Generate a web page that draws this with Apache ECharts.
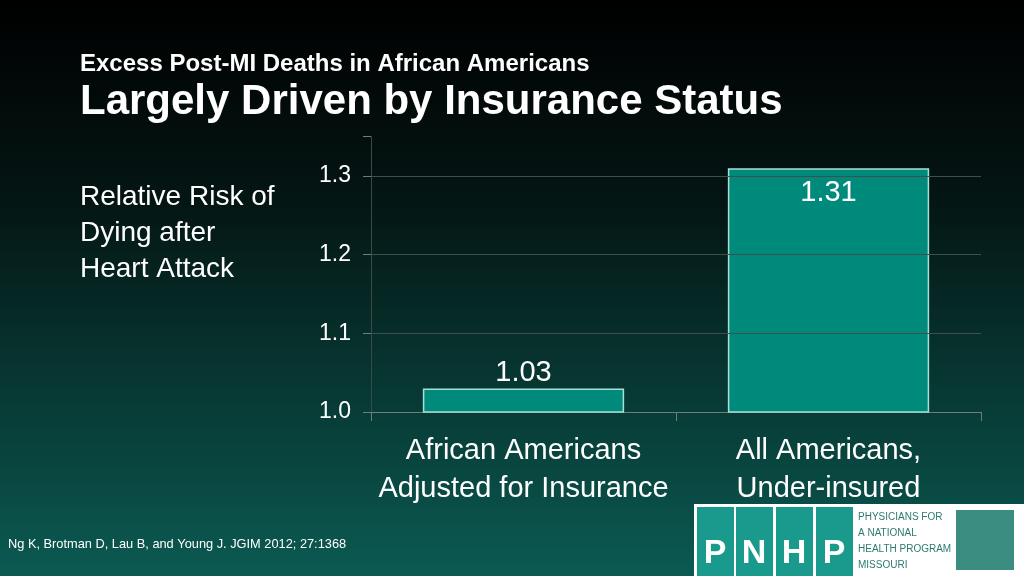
<!DOCTYPE html>
<html><head><meta charset="utf-8">
<script src="https://cdn.jsdelivr.net/npm/echarts@6/dist/echarts.min.js"></script>
<style>html,body{margin:0;padding:0;}#c{width:1024px;height:576px;}</style>
</head><body><div id="c"></div>
<script>
const categories = ['African Americans\nAdjusted for Insurance', 'All Americans,\nUnder-insured'];
const values = [1.03, 1.31];
const gridLines = [1.1, 1.2, 1.3];
const F = 'Arial, "Liberation Sans", sans-serif';
const chart = echarts.init(document.getElementById('c'));
chart.setOption({
  backgroundColor: new echarts.graphic.LinearGradient(0,0,0,1,[
    {offset:0,color:'#000000'},{offset:0.35,color:'#041614'},{offset:1,color:'#0b5a52'}]),
  title: [
    {text:'Excess Post-MI Deaths in African Americans', left:75, top:47,
     textStyle:{color:'#fff',fontFamily:F,fontSize:24,fontWeight:'bold'}},
    {text:'Largely Driven by Insurance Status', left:75, top:76,
     textStyle:{color:'#fff',fontFamily:F,fontSize:42,fontWeight:'bold'}},
    {text:'Relative Risk of\nDying after\nHeart Attack', left:75, top:174,
     textStyle:{color:'#fff',fontFamily:F,fontSize:28,fontWeight:'normal',lineHeight:36}},
    {text:'Ng K, Brotman D, Lau B, and Young J. JGIM 2012; 27:1368', left:3, top:533,
     textStyle:{color:'#fff',fontFamily:F,fontSize:12.8,fontWeight:'normal'}}
  ],
  grid:{left:371, right:43, top:136.7, bottom:164},
  xAxis:{type:'category', data:categories,
    axisLine:{lineStyle:{color:'#6b7f7b'}},
    axisTick:{show:true, length:9, lineStyle:{color:'#6b7f7b'}},
    axisLabel:{interval:0, color:'#fff', fontFamily:F, fontSize:29, lineHeight:38, margin:20}},
  yAxis:{type:'value', min:1.0, max:1.35, interval:0.1,
    axisLine:{show:true, lineStyle:{color:'#3a4a47'}},
    axisTick:{show:true, length:8, lineStyle:{color:'#6b7f7b'}},
    splitLine:{show:false},
    axisLabel:{color:'#fff', fontFamily:F, fontSize:23, margin:20,
      formatter:v=>{const r=Math.round(v*10)/10; return Math.abs(r-v)<1e-6?r.toFixed(1):'';}}},
  series:[{type:'bar', data:values, barWidth:'66%',
    itemStyle:{color:'#008a7c', borderColor:'#a8e0d6', borderWidth:1.5},
    label:{show:true, fontFamily:F, fontSize:29, color:'#fff',
      formatter:p=>p.value.toFixed(2),
      position:'top', distance:1},
    markLine:{silent:true, symbol:'none', label:{show:false},
      lineStyle:{color:'#3e4f4c', type:'solid', width:1.2},
      data:gridLines.map(v=>({yAxis:v}))},
    z:3
  }],
  graphic:[
    {type:'group', left:694, top:504, children:[
      {type:'rect', shape:{x:0,y:0,width:330,height:72}, style:{fill:'#ffffff'}},
      {type:'rect', shape:{x:3,y:3,width:37,height:69}, style:{fill:'#1a9a8c'}},
      {type:'rect', shape:{x:42,y:3,width:37,height:69}, style:{fill:'#1a9a8c'}},
      {type:'rect', shape:{x:82,y:3,width:37,height:69}, style:{fill:'#1a9a8c'}},
      {type:'rect', shape:{x:122,y:3,width:37,height:69}, style:{fill:'#1a9a8c'}},
      {type:'text', style:{x:21,y:50,text:'P',fill:'#fff',font:'bold 34px Arial',align:'center',verticalAlign:'middle'}},
      {type:'text', style:{x:60,y:50,text:'N',fill:'#fff',font:'bold 34px Arial',align:'center',verticalAlign:'middle'}},
      {type:'text', style:{x:100,y:50,text:'H',fill:'#fff',font:'bold 34px Arial',align:'center',verticalAlign:'middle'}},
      {type:'text', style:{x:140,y:50,text:'P',fill:'#fff',font:'bold 34px Arial',align:'center',verticalAlign:'middle'}},
      {type:'text', style:{x:164,y:5,text:'PHYSICIANS FOR\nA NATIONAL\nHEALTH PROGRAM\nMISSOURI',fill:'#2d7a72',font:'10px Arial',lineHeight:16}},
      {type:'rect', shape:{x:262,y:6,width:58,height:60}, style:{fill:'#3b8d82'}}
    ]}
  ]
});
chart.setOption({series:[{data:[{value:values[0]},{value:values[1],label:{position:'insideTop',distance:10}}]}]});
</script></body></html>
